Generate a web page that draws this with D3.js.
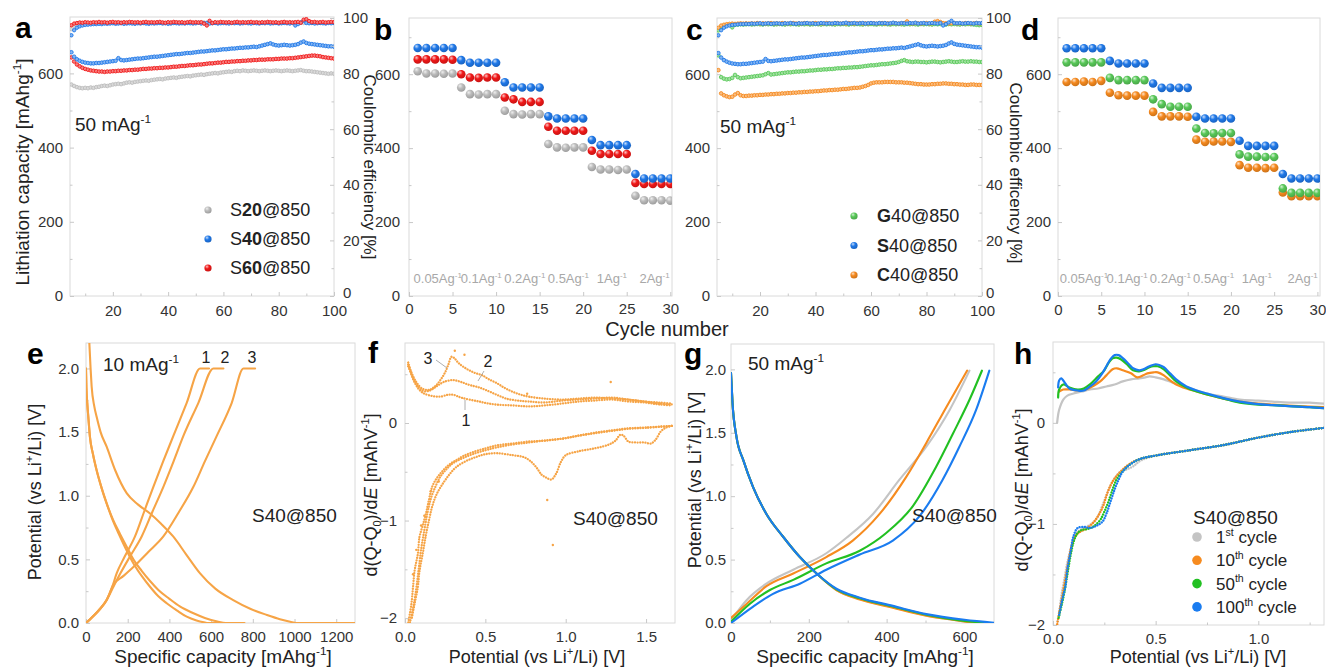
<!DOCTYPE html>
<html><head><meta charset="utf-8">
<script src="https://cdn.jsdelivr.net/npm/d3@7"></script>
<style>body{margin:0;background:#fff}svg{display:block}text{font-family:"Liberation Sans",Arial,sans-serif;fill:#222}</style>
</head><body><svg id="c" width="1326" height="669"></svg>
<script>
// ---------------- DATA ----------------
const cycles = d3.range(5, 101);
const capS20 = [570,566,563,561,560,561,560,562,561,563,564,566,567,566,568,570,571,572,571,573,575,576,575,577,578,579,580,581,580,582,583,584,585,584,586,587,588,589,588,590,591,592,593,592,594,595,596,597,596,598,599,600,601,600,602,603,604,605,604,606,607,606,608,607,606,607,608,607,606,607,608,607,606,607,608,607,606,607,608,607,606,607,608,609,607,606,606,605,604,603,602,601,600,599,600,599];
const capS40 = [657,645,638,634,631,629,628,627,627,628,628,629,630,631,632,633,634,641,636,635,636,637,638,639,640,640,641,642,643,644,645,645,646,647,648,649,650,651,652,652,653,654,655,655,656,657,658,659,659,660,661,662,662,663,664,665,665,666,667,667,668,669,669,670,670,671,672,671,673,675,677,679,681,678,676,675,676,677,676,675,676,677,679,683,686,682,680,679,678,677,676,675,674,673,673,672];
const capS60 = [643,632,624,619,615,612,610,608,607,606,605,605,604,605,605,606,606,607,607,608,608,609,609,610,610,611,612,612,613,613,614,614,615,615,616,616,617,618,618,619,620,620,621,622,622,623,624,624,625,626,627,627,628,629,629,630,631,631,632,632,633,633,634,634,635,635,636,636,637,637,637,638,638,638,639,639,640,640,640,641,641,642,643,644,645,646,647,648,648,647,646,644,643,642,641,640];
const capG40 = [651,592,588,586,587,590,598,592,589,590,591,592,593,594,595,596,597,600,603,599,600,601,602,603,604,605,605,606,607,607,608,608,609,610,610,611,612,612,613,613,614,614,615,616,616,617,617,618,618,619,619,620,621,622,623,624,624,625,626,627,627,628,629,630,631,633,636,638,635,634,633,634,634,633,633,632,633,634,634,633,632,633,634,635,634,633,633,634,635,634,634,635,634,634,633,633];
const capC40 = [611,548,543,540,538,539,545,549,543,541,541,542,542,543,543,544,544,545,545,546,546,547,547,548,548,549,549,550,550,551,551,552,552,553,553,554,554,555,556,556,557,557,558,558,559,560,560,561,562,563,563,564,566,568,571,575,577,578,578,578,579,579,579,579,578,578,578,577,577,576,575,574,573,573,572,572,572,573,573,574,574,575,575,574,574,573,573,572,572,571,571,572,572,571,571,571];
const ceS20 = [96.0,97.2,97.6,97.9,98.0,98.1,98.0,98.2,98.1,98.2,98.3,98.2,98.1,98.3,98.2,98.2,98.4,98.2,98.3,98.2,98.3,98.2,98.4,98.3,98.2,98.3,98.2,98.4,98.3,98.2,98.3,98.4,98.2,98.3,98.2,98.4,98.3,98.2,98.3,98.4,98.2,98.3,98.2,98.4,98.3,98.2,98.3,98.2,98.4,98.3,98.2,98.3,98.4,98.2,98.3,98.2,98.4,98.3,98.2,98.3,98.4,98.2,98.3,98.2,98.4,98.3,98.2,98.3,98.4,98.2,98.3,98.2,98.4,98.3,98.2,98.3,98.2,98.4,98.3,98.2,98.3,98.4,98.2,98.3,98.2,98.4,98.3,98.2,98.3,98.4,98.2,98.3,98.2,98.4,98.3,98.2];
const ceS40 = [93.8,95.6,96.5,97.0,97.3,97.5,97.6,97.7,97.8,97.8,97.9,97.8,98.0,97.9,98.0,98.1,97.9,98.0,98.1,97.9,98.0,98.1,98.0,97.9,98.1,98.0,98.2,98.0,97.9,98.1,98.0,98.1,98.2,98.0,98.1,97.9,98.0,98.2,98.1,98.0,98.1,98.0,98.2,98.1,98.0,98.1,98.3,98.0,98.1,98.2,98.0,98.1,98.2,98.0,98.1,98.2,98.1,98.0,98.2,98.1,98.2,98.0,98.1,98.3,98.1,98.0,98.2,98.1,98.0,98.2,98.1,98.3,98.0,98.1,98.2,98.0,98.1,98.2,98.1,98.0,98.2,97.3,97.8,98.4,99.0,98.2,98.1,98.2,98.0,98.1,98.2,98.1,98.0,98.2,98.1,98.2];
const ceS60 = [97.4,98.0,98.2,98.4,98.3,98.5,98.4,98.3,98.5,98.4,98.6,98.4,98.5,98.3,98.5,98.6,98.4,98.5,98.3,98.5,98.4,98.6,98.5,98.4,98.5,98.3,98.5,98.6,98.4,98.5,98.4,98.5,98.6,98.4,98.3,98.5,98.4,98.6,98.5,98.4,98.5,98.3,98.5,98.6,98.4,98.5,98.4,98.5,98.0,97.3,99.0,98.2,98.5,98.4,98.6,98.5,98.4,98.5,98.3,98.5,98.6,98.4,98.5,98.4,98.5,98.6,98.4,98.5,98.3,98.5,98.4,98.6,98.5,98.4,98.5,98.3,98.5,98.6,98.4,98.5,98.4,98.5,98.6,98.3,99.4,99.6,98.9,98.5,98.6,98.4,98.5,98.6,98.4,98.5,98.6,98.5];
const ceG40 = [95.5,96.8,97.2,97.4,97.5,96.6,97.5,97.6,97.7,97.6,97.7,97.8,97.6,97.7,97.8,97.7,97.6,97.8,97.7,97.8,97.6,97.7,97.8,97.7,97.6,97.8,97.7,97.8,97.7,97.6,97.8,97.7,97.8,97.6,97.7,97.8,97.7,97.6,97.8,97.7,97.8,97.7,97.6,97.8,97.7,97.8,97.7,97.6,97.8,97.7,97.8,97.7,97.6,97.8,97.7,97.8,97.7,97.6,97.8,97.7,97.8,97.7,97.6,97.8,97.7,97.8,97.7,97.6,97.8,97.7,97.8,97.7,97.6,97.8,97.7,97.8,97.7,97.6,97.8,97.7,97.8,97.7,97.6,97.8,97.7,97.8,97.7,97.6,97.8,97.7,97.8,97.7,97.6,97.5,97.4,97.5];
const ceC40 = [96.5,97.3,97.6,97.8,97.9,98.0,97.9,98.0,98.1,98.0,98.1,98.0,98.1,98.0,98.2,98.0,98.1,98.0,98.1,98.2,98.0,98.1,98.0,98.2,98.1,98.0,98.1,98.2,98.0,98.1,98.0,98.2,98.1,98.0,98.1,98.2,98.0,98.1,98.0,98.2,98.1,98.0,98.1,98.2,98.0,98.1,98.0,98.2,98.1,98.0,98.1,98.2,98.0,98.1,98.0,98.2,98.1,98.0,98.1,98.2,98.0,98.1,98.0,98.2,98.1,98.0,98.1,98.2,98.8,98.1,98.0,98.2,98.1,98.0,98.1,98.2,98.0,98.1,98.7,98.9,98.6,98.2,98.1,98.0,98.1,98.2,98.0,98.1,98.0,98.2,98.1,98.0,98.1,98.2,98.0,98.1];

const rateCycles = d3.range(1, 31);
const rateLabels = ["0.05", "0.1", "0.2", "0.5", "1", "2"];
const rateS20 = [608,602,602,601,602, 564,546,545,546,546, 501,492,491,492,492, 411,402,401,402,402, 349,342,342,341,342, 271,259,259,259,258];
const rateS40 = [671,671,671,671,671, 638,631,631,631,631, 578,564,564,564,564, 486,480,480,480,480, 422,408,408,408,408, 330,318,318,318,318];
const rateS60 = [640,640,640,640,639, 600,591,590,591,591, 537,532,525,525,525, 458,447,447,447,447, 393,384,384,384,384, 306,303,303,303,303];
const rateS40d = [670,670,670,670,670, 636,629,629,629,629, 575,563,563,563,563, 485,480,480,480,480, 420,406,406,406,406, 330,318,318,318,318];
const rateG40 = [632,632,632,632,632, 590,584,584,584,584, 532,519,512,512,512, 453,441,440,441,441, 383,377,377,376,376, 291,279,279,279,279];
const rateC40 = [579,579,580,579,582, 550,543,542,542,542, 498,486,486,486,485, 423,417,418,418,417, 354,347,347,346,347, 280,270,270,270,270];

// e: galvanostatic curves, 10 mA/g, cycles 1-3 [capacity, potential]
const eDis1 = [[12,2.3],[16,2.2],[22,2.0],[27,1.86],[40,1.7],[51,1.62],[70,1.5],[99,1.385],[140,1.2],[195,1.02],[250,0.93],[307,0.86],[360,0.78],[418,0.68],[480,0.54],[547,0.39],[620,0.27],[706,0.18],[790,0.11],[868,0.063],[930,0.03],[979,0.01],[1010,0.0],[1100,0.0],[1300,0.0]];
const eDis2 = [[0,2.0],[2,1.85],[6,1.73],[12,1.6],[19,1.46],[33,1.33],[51,1.2],[75,1.06],[99,0.94],[130,0.8],[163,0.68],[195,0.57],[227,0.47],[267,0.37],[307,0.285],[347,0.21],[387,0.155],[435,0.1],[483,0.05],[530,0.02],[565,0.005],[580,0.0],[700,0.0]];
const eDis3 = [[0,2.0],[2,1.85],[6,1.73],[12,1.6],[19,1.46],[33,1.33],[51,1.2],[75,1.06],[99,0.94],[130,0.81],[163,0.7],[195,0.6],[227,0.5],[267,0.41],[307,0.33],[347,0.26],[400,0.19],[450,0.13],[510,0.08],[570,0.04],[630,0.012],[670,0.0],[760,0.0]];
const eCh1 = [[0,0],[20,0.03],[45,0.07],[67,0.11],[99,0.18],[125,0.28],[147,0.39],[185,0.52],[235,0.68],[280,0.88],[323,1.07],[370,1.27],[419,1.47],[483,1.73],[547,2.0],[590,2.0]];
const eCh2 = [[0,0],[20,0.03],[45,0.07],[67,0.11],[99,0.18],[130,0.28],[165,0.39],[210,0.52],[267,0.68],[320,0.88],[371,1.07],[420,1.27],[467,1.47],[539,1.73],[611,2.0],[659,2.0]];
const eCh3 = [[0,0],[20,0.03],[45,0.07],[67,0.11],[99,0.18],[131,0.3],[180,0.37],[227,0.44],[300,0.56],[371,0.68],[445,0.87],[515,1.07],[570,1.27],[627,1.47],[699,1.73],[755,2.0],[811,2.0]];

// f: differential capacity, cycles 1-3 [potential, dQ/dE]
const fCh1 = [[0.02,0.60],[0.03,0.55],[0.05,0.45],[0.08,0.36],[0.11,0.31],[0.16,0.28],[0.22,0.27],[0.27,0.29],[0.30,0.29],[0.35,0.26],[0.46,0.22],[0.56,0.19],[0.67,0.18],[0.77,0.17],[0.87,0.18],[0.98,0.20],[1.08,0.22],[1.18,0.23],[1.29,0.24],[1.39,0.22],[1.49,0.21],[1.58,0.19],[1.66,0.18]];
const fCh2 = [[0.02,0.58],[0.04,0.50],[0.07,0.40],[0.11,0.33],[0.15,0.33],[0.20,0.38],[0.24,0.42],[0.30,0.44],[0.35,0.42],[0.40,0.39],[0.45,0.37],[0.50,0.34],[0.57,0.29],[0.63,0.25],[0.70,0.23],[0.77,0.22],[0.87,0.21],[0.98,0.23],[1.08,0.24],[1.18,0.25],[1.29,0.26],[1.39,0.24],[1.49,0.22],[1.58,0.20],[1.66,0.19]];
const fCh3 = [[0.02,0.62],[0.04,0.52],[0.07,0.42],[0.11,0.35],[0.15,0.34],[0.19,0.38],[0.22,0.44],[0.25,0.52],[0.27,0.60],[0.29,0.68],[0.31,0.66],[0.33,0.62],[0.36,0.58],[0.40,0.54],[0.44,0.51],[0.48,0.49],[0.52,0.45],[0.57,0.41],[0.62,0.36],[0.67,0.32],[0.72,0.29],[0.77,0.27],[0.87,0.25],[0.98,0.24],[1.08,0.25],[1.18,0.26],[1.29,0.25],[1.39,0.24],[1.49,0.22],[1.58,0.21],[1.66,0.20]];
const fDis1 = [[1.66,-0.03],[1.62,-0.05],[1.59,-0.09],[1.56,-0.17],[1.53,-0.21],[1.49,-0.20],[1.44,-0.20],[1.39,-0.19],[1.36,-0.13],[1.34,-0.12],[1.31,-0.18],[1.27,-0.22],[1.18,-0.26],[1.08,-0.29],[1.00,-0.33],[0.97,-0.40],[0.94,-0.52],[0.91,-0.58],[0.88,-0.56],[0.85,-0.53],[0.82,-0.46],[0.78,-0.39],[0.74,-0.35],[0.67,-0.33],[0.57,-0.31],[0.50,-0.32],[0.44,-0.35],[0.38,-0.39],[0.32,-0.45],[0.28,-0.52],[0.24,-0.61],[0.20,-0.72],[0.17,-0.85],[0.15,-0.99],[0.13,-1.15],[0.11,-1.34],[0.09,-1.52],[0.08,-1.68],[0.06,-1.85],[0.04,-2.02]];
const fDis2 = [[1.66,-0.03],[1.50,-0.045],[1.39,-0.055],[1.29,-0.075],[1.18,-0.10],[1.08,-0.13],[0.98,-0.16],[0.87,-0.18],[0.77,-0.19],[0.67,-0.21],[0.57,-0.23],[0.50,-0.26],[0.42,-0.30],[0.36,-0.34],[0.32,-0.38],[0.28,-0.42],[0.24,-0.48],[0.20,-0.56],[0.17,-0.65],[0.15,-0.78],[0.13,-0.93],[0.11,-1.05],[0.09,-1.17],[0.08,-1.34],[0.06,-1.51],[0.05,-1.68],[0.04,-1.85],[0.02,-2.05]];
const fDis3 = [[1.66,-0.03],[1.50,-0.05],[1.39,-0.06],[1.29,-0.08],[1.18,-0.105],[1.08,-0.13],[0.98,-0.16],[0.87,-0.18],[0.77,-0.20],[0.67,-0.22],[0.57,-0.25],[0.50,-0.28],[0.42,-0.32],[0.36,-0.36],[0.30,-0.41],[0.26,-0.47],[0.22,-0.55],[0.19,-0.65],[0.16,-0.78],[0.14,-0.92],[0.12,-1.10],[0.10,-1.30],[0.085,-1.50],[0.07,-1.70],[0.05,-1.90],[0.03,-2.05]];
const fStray = [[0.885,-0.79],[0.92,-1.25],[0.76,0.30],[1.28,0.42],[0.37,0.70],[0.31,0.74],[0.10,-1.05],[0.12,-0.95],[0.07,-1.30],[0.21,-0.60],[0.16,-0.70],[0.05,-1.55]];

// g: galvanostatic curves, 50 mA/g [capacity, potential]
const gCh1 = [[0,0.02],[40,0.18],[91,0.31],[160,0.42],[245,0.55],[296,0.67],[365,0.86],[433,1.13],[502,1.39],[562,1.68],[613,1.99]];
const gCh10 = [[0,0.04],[40,0.15],[91,0.29],[160,0.39],[245,0.52],[313,0.65],[382,0.86],[450,1.15],[502,1.42],[553,1.70],[607,1.99]];
const gCh50 = [[0,0.01],[48,0.15],[100,0.26],[160,0.34],[245,0.47],[331,0.57],[399,0.71],[467,0.92],[527,1.23],[570,1.49],[613,1.76],[645,1.99]];
const gCh100 = [[0,0.0],[57,0.13],[108,0.23],[177,0.31],[245,0.42],[331,0.54],[416,0.65],[484,0.84],[544,1.13],[587,1.39],[630,1.68],[664,1.99]];
const gDis1 = [[0,1.97],[4,1.73],[14,1.47],[32,1.28],[57,1.07],[91,0.86],[134,0.68],[177,0.52],[220,0.39],[271,0.26],[331,0.19],[416,0.125],[502,0.06],[560,0.03],[620,0.005]];
const gDis10 = [[0,1.97],[4,1.73],[14,1.47],[32,1.28],[57,1.07],[91,0.86],[134,0.68],[177,0.52],[220,0.39],[271,0.26],[331,0.185],[416,0.12],[502,0.058],[570,0.025],[625,0.0]];
const gDis50 = [[0,1.97],[4,1.73],[14,1.47],[32,1.28],[57,1.07],[91,0.86],[134,0.68],[177,0.52],[220,0.39],[271,0.265],[331,0.195],[416,0.13],[502,0.065],[590,0.02],[660,0.0]];
const gDis100 = [[0,1.97],[4,1.73],[14,1.47],[32,1.28],[57,1.07],[91,0.86],[134,0.68],[177,0.52],[220,0.39],[271,0.27],[331,0.2],[416,0.135],[502,0.07],[600,0.025],[682,0.0]];

// h: differential capacity, cycles 1/10/50/100 [potential, dQ/dE]
const hCh1 = [[0.02,0.0],[0.025,0.08],[0.03,0.13],[0.05,0.23],[0.07,0.27],[0.10,0.29],[0.14,0.31],[0.18,0.33],[0.22,0.34],[0.26,0.36],[0.30,0.38],[0.34,0.41],[0.38,0.43],[0.42,0.44],[0.45,0.45],[0.47,0.46],[0.50,0.45],[0.54,0.43],[0.58,0.40],[0.64,0.36],[0.70,0.32],[0.75,0.29],[0.83,0.26],[0.91,0.23],[1.0,0.22],[1.07,0.21],[1.15,0.20],[1.25,0.20],[1.32,0.19]];
const hCh10 = [[0.03,0.31],[0.05,0.33],[0.08,0.33],[0.12,0.32],[0.16,0.33],[0.20,0.37],[0.23,0.41],[0.26,0.47],[0.29,0.53],[0.31,0.54],[0.34,0.52],[0.38,0.49],[0.41,0.45],[0.44,0.47],[0.46,0.49],[0.49,0.50],[0.51,0.50],[0.54,0.47],[0.57,0.42],[0.60,0.38],[0.65,0.34],[0.70,0.31],[0.75,0.28],[0.83,0.24],[0.91,0.21],[1.0,0.19],[1.07,0.18],[1.15,0.17],[1.25,0.16],[1.32,0.155]];
const hCh50 = [[0.025,0.25],[0.03,0.33],[0.05,0.38],[0.08,0.35],[0.12,0.33],[0.15,0.34],[0.18,0.38],[0.22,0.46],[0.25,0.52],[0.27,0.59],[0.29,0.64],[0.31,0.645],[0.33,0.63],[0.36,0.58],[0.39,0.52],[0.42,0.51],[0.44,0.52],[0.47,0.55],[0.49,0.56],[0.51,0.56],[0.54,0.53],[0.57,0.47],[0.60,0.41],[0.65,0.35],[0.70,0.31],[0.75,0.28],[0.83,0.24],[0.91,0.20],[1.0,0.18],[1.07,0.175],[1.15,0.165],[1.25,0.155],[1.32,0.145]];
const hCh100 = [[0.025,0.35],[0.03,0.42],[0.04,0.44],[0.06,0.39],[0.08,0.34],[0.12,0.32],[0.15,0.32],[0.18,0.36],[0.21,0.41],[0.24,0.49],[0.26,0.56],[0.28,0.63],[0.30,0.67],[0.32,0.67],[0.34,0.64],[0.37,0.58],[0.39,0.54],[0.42,0.52],[0.44,0.53],[0.47,0.56],[0.50,0.58],[0.52,0.57],[0.54,0.55],[0.57,0.49],[0.60,0.43],[0.65,0.36],[0.70,0.32],[0.75,0.29],[0.83,0.245],[0.91,0.21],[1.0,0.185],[1.07,0.175],[1.15,0.165],[1.25,0.155],[1.32,0.145]];
const hDis1 = [[1.32,-0.05],[1.16,-0.09],[0.99,-0.15],[0.83,-0.22],[0.67,-0.27],[0.51,-0.32],[0.43,-0.37],[0.39,-0.43],[0.36,-0.46],[0.33,-0.48],[0.30,-0.55],[0.28,-0.62],[0.26,-0.72],[0.24,-0.82],[0.22,-0.92],[0.20,-0.98],[0.17,-1.02],[0.14,-1.05],[0.11,-1.10],[0.09,-1.22],[0.07,-1.38],[0.055,-1.55],[0.04,-1.72],[0.03,-1.88],[0.02,-1.98]];
const hDis10 = [[1.32,-0.05],[1.16,-0.09],[0.99,-0.15],[0.83,-0.22],[0.67,-0.27],[0.51,-0.32],[0.42,-0.36],[0.37,-0.41],[0.33,-0.48],[0.30,-0.55],[0.28,-0.62],[0.26,-0.72],[0.245,-0.82],[0.22,-0.92],[0.19,-1.00],[0.16,-1.05],[0.13,-1.08],[0.11,-1.12],[0.09,-1.22],[0.075,-1.38],[0.06,-1.55],[0.045,-1.72],[0.03,-1.88],[0.02,-2.0]];
const hDis50 = [[1.32,-0.05],[1.16,-0.09],[0.99,-0.15],[0.83,-0.22],[0.67,-0.27],[0.51,-0.32],[0.42,-0.36],[0.37,-0.42],[0.34,-0.48],[0.31,-0.56],[0.29,-0.66],[0.27,-0.78],[0.25,-0.88],[0.23,-0.96],[0.20,-1.02],[0.17,-1.05],[0.14,-1.06],[0.12,-1.09],[0.10,-1.18],[0.085,-1.32],[0.07,-1.50],[0.055,-1.68],[0.04,-1.82],[0.025,-1.95]];
const hDis100 = [[1.32,-0.05],[1.16,-0.09],[0.99,-0.15],[0.83,-0.22],[0.67,-0.27],[0.51,-0.32],[0.42,-0.36],[0.37,-0.42],[0.34,-0.48],[0.32,-0.56],[0.30,-0.66],[0.28,-0.78],[0.26,-0.90],[0.24,-0.98],[0.21,-1.02],[0.18,-1.04],[0.15,-1.03],[0.12,-1.04],[0.10,-1.12],[0.085,-1.28],[0.07,-1.45],[0.06,-1.62],[0.045,-1.75],[0.03,-1.90]];
const hLegend = [["1","st"],["10","th"],["50","th"],["100","th"]];

// ---------------- STYLE ----------------
const C = {gray:"#bcbcbc", blue:"#1f78e8", red:"#f01818", green:"#58c858", orange:"#f5891e",
  eor:"#f6a446", hgray:"#c4c4c4", horange:"#f68b1f", hgreen:"#22c022", hblue:"#1a7cf0"};
const svg = d3.select("#c");
svg.append("rect").attr("width",1326).attr("height",669).attr("fill","#fff");
const defs = svg.append("defs");

function sphereGrad(id, col){
  const g = defs.append("radialGradient").attr("id",id).attr("cx","40%").attr("cy","35%").attr("r","65%").attr("fx","35%").attr("fy","30%");
  g.append("stop").attr("offset","0%").attr("stop-color", d3.interpolateRgb(col,"#fff")(0.75));
  g.append("stop").attr("offset","45%").attr("stop-color", col);
  g.append("stop").attr("offset","100%").attr("stop-color", d3.color(col).darker(0.5));
}
Object.entries({gray:C.gray, blue:C.blue, red:C.red, green:C.green, orange:C.orange}).forEach(([k,v])=>sphereGrad("sp-"+k,v));

function rich(sel, parts, fs){
  let off = 0;
  parts.forEach(p=>{
    const t = typeof p==="string"?p:p[0], s = typeof p==="string"?"":p[1];
    let target=0, size=fs;
    if(s==="sup"){target=-fs*0.42; size=fs*0.62;}
    else if(s==="sub"){target=fs*0.22; size=fs*0.62;}
    const ts = sel.append("tspan").text(t).attr("font-size",size);
    if(target!==off){ts.attr("dy",target-off); off=target;}
    if(s==="b") ts.attr("font-weight","bold");
    if(s==="i") ts.attr("font-style","italic");
  });
  return sel;
}
function label(x,y,parts,fs,opt={}){
  const t = svg.append("text").attr("x",x).attr("y",y).attr("font-size",fs);
  if(opt.anchor) t.attr("text-anchor",opt.anchor);
  if(opt.fill) t.style("fill",opt.fill);
  if(opt.weight) t.attr("font-weight",opt.weight);
  if(opt.rot!==undefined) t.attr("x",0).attr("y",0).attr("transform",`translate(${x},${y}) rotate(${opt.rot})`);
  return rich(t, parts, fs);
}

let clipN=0;
function panel(P, x, y, o){
  const g = svg.append("g");
  g.append("rect").attr("x",P.l).attr("y",P.t).attr("width",P.r-P.l).attr("height",P.b-P.t)
    .attr("fill","none").attr("stroke","#dadada").attr("stroke-width",1);
  const styleAx = s=>{ s.select(".domain").remove(); s.selectAll("line").attr("stroke","#c8c8c8");
    s.selectAll("text").attr("font-size",15).style("fill","#333").attr("font-family",'"Liberation Sans",Arial,sans-serif'); };
  g.append("g").attr("transform",`translate(0,${P.b})`)
    .call(d3.axisBottom(x).tickValues(o.xt).tickFormat(o.xf).tickSize(-4).tickPadding(o.xpad||8)).call(styleAx);
  if(o.xm) g.append("g").attr("transform",`translate(0,${P.b})`).call(d3.axisBottom(x).tickValues(o.xm).tickFormat("").tickSize(-2.5)).call(styleAx);
  g.append("g").attr("transform",`translate(${P.l},0)`)
    .call(d3.axisLeft(y).tickValues(o.yt).tickFormat(o.yf).tickSize(-4).tickPadding(o.ypad||7)).call(styleAx);
  if(o.ym) g.append("g").attr("transform",`translate(${P.l},0)`).call(d3.axisLeft(y).tickValues(o.ym).tickFormat("").tickSize(-2.5)).call(styleAx);
  const id = "clip"+(clipN++);
  defs.append("clipPath").attr("id",id).append("rect").attr("x",P.l).attr("y",P.t).attr("width",P.r-P.l).attr("height",P.b-P.t);
  const body = g.append("g").attr("clip-path",`url(#${id})`);
  return {g, body, styleAx};
}
function rightAxis(pan, P, y2, ticks, minor, pad){
  pan.g.append("g").attr("transform",`translate(${P.r},0)`)
    .call(d3.axisRight(y2).tickValues(ticks).tickFormat(d3.format("d")).tickSize(-4).tickPadding(pad)).call(pan.styleAx)
    .selectAll("text").attr("dy",d=>d===0?"0.1em":"0.32em");
  pan.g.append("g").attr("transform",`translate(${P.r},0)`)
    .call(d3.axisRight(y2).tickValues(minor).tickFormat("").tickSize(-2.5)).call(pan.styleAx);
}
function smallDots(body, xs, ys, x, y, col, r){
  const fill = d3.interpolateRgb(col,"#fff")(0.45);
  body.append("g").selectAll("circle").data(xs.map((d,i)=>[d,ys[i]])).join("circle")
    .attr("cx",d=>x(d[0])).attr("cy",d=>y(d[1])).attr("r",r)
    .attr("fill",fill).attr("stroke",col).attr("stroke-width",0.9);
}
function balls(body, xs, ys, x, y, key, r){
  body.append("g").selectAll("circle").data(xs.map((d,i)=>[d,ys[i]])).join("circle")
    .attr("cx",d=>x(d[0])).attr("cy",d=>y(d[1])).attr("r",r).attr("fill",`url(#sp-${key})`);
}
function path(body, data, x, y, col, w, curve, dash){
  const p = body.append("path").datum(data)
    .attr("d", d3.line().x(d=>x(d[0])).y(d=>y(d[1])).curve(curve||d3.curveMonotoneX))
    .attr("fill","none").attr("stroke",col).attr("stroke-width",w).attr("stroke-linejoin","round").attr("stroke-linecap","round");
  if(dash) p.attr("stroke-dasharray",dash);
  return p;
}
const fmt0 = d3.format("d"), fmt1 = d3.format(".1f");
const capTicks=[0,200,400,600], capMinor=[100,300,500,700];

// ---------------- PANEL a ----------------
const PA={l:70,r:334,t:17,b:296};
const xA=d3.scaleLinear([4.5,100],[PA.l,PA.r]), yA=d3.scaleLinear([0,752],[PA.b,PA.t]), ceA=d3.scaleLinear([0,100],[PA.b,18]);
const pa=panel(PA,xA,yA,{xt:[20,40,60,80,100],xm:[10,30,50,70,90],xf:fmt0,yt:capTicks,ym:capMinor,yf:fmt0,xpad:9});
rightAxis(pa,PA,ceA,[0,20,40,60,80,100],[10,30,50,70,90],9);
smallDots(pa.body,cycles,ceS20,xA,ceA,C.gray,1.7);
smallDots(pa.body,cycles,ceS40,xA,ceA,C.blue,1.7);
smallDots(pa.body,cycles,ceS60,xA,ceA,C.red,1.7);
smallDots(pa.body,cycles,capS20,xA,yA,C.gray,1.8);
smallDots(pa.body,cycles,capS60,xA,yA,C.red,1.8);
smallDots(pa.body,cycles,capS40,xA,yA,C.blue,1.8);

// ---------------- PANEL b ----------------
const PB={l:409,r:672,t:18,b:296};
const xB=d3.scaleLinear([0,30.2],[PB.l,PB.r]), yB=d3.scaleLinear([0,752],[PB.b,PB.t]);
const pb=panel(PB,xB,yB,{xt:[0,5,10,15,20,25,30],xf:fmt0,yt:capTicks,ym:capMinor,yf:fmt0,ypad:9,xpad:7});
balls(pb.body,rateCycles,rateS20,xB,yB,"gray",4.3);
balls(pb.body,rateCycles,rateS60,xB,yB,"red",4.3);
balls(pb.body,rateCycles,rateS40,xB,yB,"blue",4.3);

// ---------------- PANEL c ----------------
const PC={l:717,r:982,t:18,b:296};
const xC=d3.scaleLinear([4.5,100],[PC.l,PC.r]), yC=d3.scaleLinear([0,752],[PC.b,PC.t]), ceC=d3.scaleLinear([0,100],[PC.b,18]);
const pc=panel(PC,xC,yC,{xt:[20,40,60,80,100],xm:[10,30,50,70,90],xf:fmt0,yt:capTicks,ym:capMinor,yf:fmt0,xpad:9});
rightAxis(pc,PC,ceC,[0,20,40,60,80,100],[10,30,50,70,90],4);
smallDots(pc.body,cycles,ceG40,xC,ceC,C.green,1.7);
smallDots(pc.body,cycles,ceC40,xC,ceC,C.orange,1.7);
smallDots(pc.body,cycles,ceS40,xC,ceC,C.blue,1.7);
smallDots(pc.body,cycles,capC40,xC,yC,C.orange,1.8);
smallDots(pc.body,cycles,capG40,xC,yC,C.green,1.8);
smallDots(pc.body,cycles,capS40,xC,yC,C.blue,1.8);

// ---------------- PANEL d ----------------
const PD={l:1058,r:1320,t:18,b:296};
const xD=d3.scaleLinear([0,30.3],[PD.l,PD.r]), yD=d3.scaleLinear([0,752],[PD.b,PD.t]);
const pd=panel(PD,xD,yD,{xt:[0,5,10,15,20,25,30],xf:fmt0,yt:capTicks,ym:capMinor,yf:fmt0});
balls(pd.body,rateCycles,rateC40,xD,yD,"orange",4.3);
balls(pd.body,rateCycles,rateG40,xD,yD,"green",4.3);
balls(pd.body,rateCycles,rateS40d,xD,yD,"blue",4.3);

// ---------------- PANEL e ----------------
const PE={l:86,r:355,t:343,b:623};
const xE=d3.scaleLinear([0,1290],[PE.l,PE.r]), yE=d3.scaleLinear([0,2.2],[PE.b,PE.t]);
const pe=panel(PE,xE,yE,{xt:[0,200,400,600,800,1000,1200],xf:fmt0,yt:[0,0.5,1,1.5,2],ym:[0.25,0.75,1.25,1.75],yf:fmt1});
[eDis1,eDis2,eDis3,eCh1,eCh2,eCh3].forEach(d=>path(pe.body,d,xE,yE,C.eor,2.1));

// ---------------- PANEL f ----------------
const PF={l:405,r:675,t:343,b:623};
const xF=d3.scaleLinear([0,1.68],[PF.l,PF.r]), yF=d3.scaleLinear([-2.05,0.82],[PF.b,PF.t]);
const pf=panel(PF,xF,yF,{xt:[0,0.5,1,1.5],xf:fmt1,yt:[-2,-1,0],ym:[-1.5,-0.5,0.5],yf:fmt0,ypad:8});
[fCh1,fCh2,fCh3,fDis2,fDis3,fDis1].forEach(d=>path(pf.body,d,xF,yF,C.eor,2.3,d3.curveCatmullRom,"0.01,2.6"));
pf.body.append("g").selectAll("circle").data(fStray).join("circle").attr("cx",d=>xF(d[0])).attr("cy",d=>yF(d[1])).attr("r",1.2).attr("fill",C.eor);

// ---------------- PANEL g ----------------
const PG={l:731,r:994,t:344,b:623};
const xG=d3.scaleLinear([0,676],[PG.l,PG.r]), yG=d3.scaleLinear([0,2.2],[PG.b,PG.t]);
const pg=panel(PG,xG,yG,{xt:[0,200,400,600],xm:[100,300,500],xf:fmt0,yt:[0,0.5,1,1.5,2],ym:[0.25,0.75,1.25,1.75],yf:fmt1,ypad:5});
[[gCh1,gDis1,C.hgray],[gCh10,gDis10,C.horange],[gCh50,gDis50,C.hgreen],[gCh100,gDis100,C.hblue]].forEach(([c,dch,col])=>{
  path(pg.body,c,xG,yG,col,2.1); path(pg.body,dch,xG,yG,col,2.1);
});

// ---------------- PANEL h ----------------
const PH={l:1053,r:1324,t:342,b:625};
const xH=d3.scaleLinear([0,1.32],[PH.l,PH.r]), yH=d3.scaleLinear([-2,0.8],[PH.b,PH.t]);
const ph=panel(PH,xH,yH,{xt:[0,0.5,1],xm:[0.25,0.75,1.25],xf:fmt1,yt:[-2,-1,0],ym:[-1.5,-0.5,0.5],yf:fmt0,ypad:8});
[[hCh1,hDis1,C.hgray],[hCh10,hDis10,C.horange],[hCh50,hDis50,C.hgreen],[hCh100,hDis100,C.hblue]].forEach(([c,dch,col])=>{
  path(ph.body,c,xH,yH,col,2.2,d3.curveCatmullRom);
  path(ph.body,dch,xH,yH,col,2.4,d3.curveCatmullRom,"0.01,2.6");
});

// ---------------- TEXT ----------------
const capTitle = ["Lithiation capacity [mAhg",["-1","sup"],"]"];
label(29,172,capTitle,19,{anchor:"middle",rot:-90});
label(364,167,["Coulombic efficiency [%]"],17,{anchor:"middle",rot:90});
label(1010,173,["Coulombic efficency [%]"],17,{anchor:"middle",rot:90});
label(667,336,["Cycle number"],20,{anchor:"middle"});
label(75,131,["50 mAg",["-1","sup"]],19);
label(720,133,["50 mAg",["-1","sup"]],19);
// legends a / c
const legA=[["20","gray",capS20],["40","blue",capS40],["60","red",capS60]];
legA.forEach((d,i)=>{
  svg.append("circle").attr("cx",208).attr("cy",210+i*29).attr("r",3.6).attr("fill",`url(#sp-${d[1]})`);
  label(230,216+i*29,["S",[d[0],"b"],"@850"],18);
});
const legC=[["G","green"],["S","blue"],["C","orange"]];
legC.forEach((d,i)=>{
  svg.append("circle").attr("cx",854).attr("cy",216+i*29.5).attr("r",3.6).attr("fill",`url(#sp-${d[1]})`);
  label(877,222+i*29.5,[[d[0],"b"],"40@850"],18);
});
// rate labels b / d
rateLabels.forEach((r,i)=>{
  const cb = i<5 ? 5*i+3.3 : 28.2;
  label(xB(cb),283,[r+"Ag",["-1","sup"]],13,{anchor:"middle",fill:"#a8a8a8"});
  const cd = i<5 ? 5*i+3.0 : 28.3;
  label(xD(cd),283,[r+"Ag",["-1","sup"]],13,{anchor:"middle",fill:"#a8a8a8"});
});
// panel letters
[["a",15,38],["b",374,40],["c",686,40],["d",1021,40],["e",27,364],["f",368,363],["g",684,364],["h",1014,364]]
  .forEach(d=>label(d[1],d[2],[d[0]],30,{weight:"bold"}).style("fill","#000"));
// e
const potTitle=["Potential (vs Li",["+","sup"],"/Li) [V]"];
const specTitle=["Specific capacity [mAhg",["-1","sup"],"]"];
label(41,492,potTitle,18,{anchor:"middle",rot:-90});
label(223,663,specTitle,19,{anchor:"middle"});
label(103,371,["10 mAg",["-1","sup"]],19);
["1","2","3"].forEach((t,i)=>label([206,225,252][i],363,[t],16,{anchor:"middle"}));
label(252,522,["S40@850"],19);
// f
const dqTitle=["d(Q-Q",["0","sub"],")/d",["E","i"]," [mAhV",["-1","sup"],"]"];
label(377,495,dqTitle,18,{anchor:"middle",rot:-90});
label(537,663,potTitle,18,{anchor:"middle"});
label(573,525,["S40@850"],19);
label(428,364,["3"],16,{anchor:"middle"});
label(488,367,["2"],16,{anchor:"middle"});
label(466,426,["1"],16,{anchor:"middle"});
[[436,360,447,368],[484,371,478,381],[465,400,465,410]].forEach(l=>svg.append("line").attr("x1",l[0]).attr("y1",l[1]).attr("x2",l[2]).attr("y2",l[3]).attr("stroke","#999").attr("stroke-width",0.8));
// g
label(701,480,potTitle,18,{anchor:"middle",rot:-90});
label(865,663,specTitle,19,{anchor:"middle"});
label(748,370,["50 mAg",["-1","sup"]],19);
label(912,522,["S40@850"],19);
// h
label(1028,490,dqTitle,18,{anchor:"middle",rot:-90});
label(1198,663,potTitle,18,{anchor:"middle"});
label(1193,524,["S40@850"],19);
const hCols=[C.hgray,C.horange,C.hgreen,C.hblue];
hLegend.forEach((d,i)=>{
  svg.append("circle").attr("cx",1197).attr("cy",537+i*23.3).attr("r",4.8).attr("fill",hCols[i]);
  label(1216,543+i*23.3,[d[0],[d[1],"sup"]," cycle"],17);
});
</script></body></html>
